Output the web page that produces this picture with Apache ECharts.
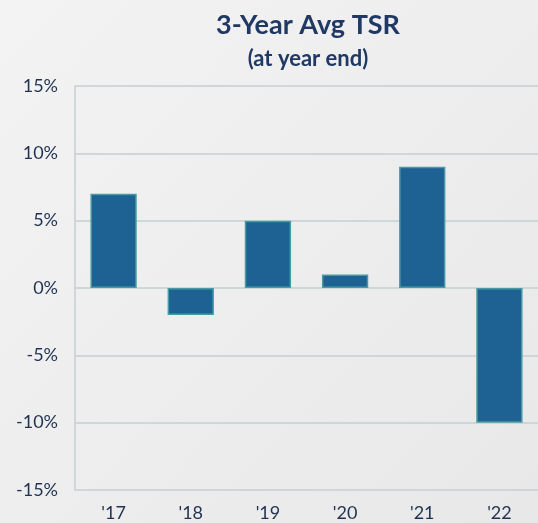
<!DOCTYPE html>
<html>
<head>
<meta charset="utf-8">
<script src="https://cdn.jsdelivr.net/npm/echarts@6/dist/echarts.min.js"></script>
<style>
  html, body { margin: 0; padding: 0; }
  #chart { width: 538px; height: 523px; }
</style>
</head>
<body>
<div id="chart"></div>
<script>
// chart data
const years = ["'17", "'18", "'19", "'20", "'21", "'22"];
const tsrValues = [7, -2, 5, 1, 9, -10];
const yTicks = [-15, -10, -5, 0, 5, 10, 15];

const chart = echarts.init(document.getElementById('chart'));

const option = {
  backgroundColor: {
    type: 'linear', x: 0, y: 0, x2: 1, y2: 1,
    colorStops: [
      { offset: 0, color: '#f3f3f3' },
      { offset: 1, color: '#e8e8e8' }
    ]
  },
  title: [
    {
      text: '3-Year Avg TSR',
      left: 303,
      top: 7,
      textAlign: 'center',
      textStyle: { fontFamily: 'Lato', fontWeight: 'bold', fontSize: 27, color: '#1f3864' }
    },
    {
      text: '(at year end)',
      left: 303,
      top: 43,
      textAlign: 'center',
      textStyle: { fontFamily: 'Lato', fontWeight: 'bold', fontSize: 22, color: '#1f3864' }
    }
  ],
  grid: { left: 75, top: 86, width: 472, height: 404 },
  xAxis: {
    type: 'category',
    data: years,
    axisLine: { show: false },
    axisTick: { show: false },
    axisLabel: { fontFamily: 'Lato', fontSize: 18, color: '#1f3350', margin: 14 }
  },
  yAxis: {
    type: 'value',
    min: yTicks[0],
    max: yTicks[yTicks.length - 1],
    interval: 5,
    axisLine: { show: true, lineStyle: { color: '#c5d1d1', width: 1.5 } },
    axisTick: { show: false },
    splitLine: { lineStyle: { color: '#c5d1d1', width: 1.5 } },
    axisLabel: { fontFamily: 'Lato', fontSize: 18, color: '#1f3350', margin: 17, formatter: '{value}%' }
  },
  series: [{
    type: 'bar',
    data: tsrValues,
    barWidth: '60%',
    itemStyle: { color: '#1e6193', borderColor: '#4a9aa3', borderWidth: 1.5 }
  }]
};

chart.setOption(option);
</script>
</body>
</html>
